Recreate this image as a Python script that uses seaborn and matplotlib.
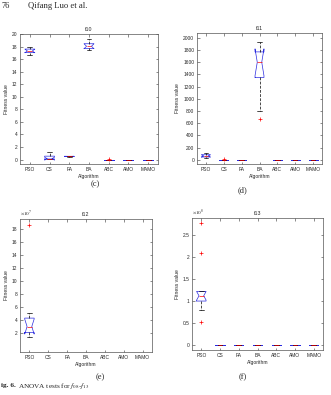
import numpy as np
import pandas as pd
import matplotlib
matplotlib.use("Agg")
import matplotlib.pyplot as plt
import seaborn as sns
from matplotlib.ticker import FuncFormatter, MultipleLocator

algorithms = ["PSO", "CS", "FA", "BA", "ABC", "AMO", "MAMO"]

# (c) f10 -- estimated samples
c_PSO = [16.6, 16.9, 17.05, 17.2, 17.3, 17.45, 17.6, 17.75, 17.9]
c_CS = [0.02, 0.05, 0.1, 0.12, 0.15, 0.3, 0.55, 0.8, 1.15]
c_FA = [0.48, 0.5, 0.51, 0.52, 0.52, 0.53, 0.53, 0.54, 0.55]
c_BA = [17.5, 17.6, 17.7, 17.9, 18.05, 18.25, 18.45, 18.8, 19.2]
c_ABC = [0, 0, 0, 0, 0, 0, 0, 0, 0.03]
c_AMO = [0, 0, 0, 0, 0, 0, 0, 0, 0]
c_MAMO = [0, 0, 0, 0, 0, 0, 0, 0, 0]

# (d) f11
d_PSO = [30, 38, 45, 55, 62, 72, 82, 95, 110]
d_CS = [0, 0, 0, 0, 0, 0, 0, 0, 6]
d_FA = [0, 0, 0, 0, 0, 0, 0, 0, 0]
d_BA = [670, 800, 1350, 1500, 1600, 1700, 1770, 1850, 1930]
d_ABC = [0, 0, 0, 0, 0, 0, 0, 0, 0]
d_AMO = [0, 0, 0, 0, 0, 0, 0, 0, 0]
d_MAMO = [0, 0, 0, 0, 0, 0, 0, 0, 0]

# (e) f12 (only PSO visible)
e_PSO = [1.4e7, 1.8e7, 2.1e7, 2.6e7, 3.0e7, 3.6e7, 4.3e7, 5.1e7, 18.6e7]

# (f) f13
f_PSO = [0.53e8, 0.8e8, 0.9e8, 1.0e8, 1.05e8, 1.08e8, 1.12e8, 1.15e8,
         1.18e8, 1.22e8, 1.22e8, 2.09e8, 2.78e8]
f_CS = [0, 0, 0, 0, 0, 0, 0, 0, 0]
f_FA = [0, 0, 0, 0, 0, 0, 0, 0, 0]
f_BA = [0, 0, 0, 0, 0, 0, 0, 0, 0]
f_ABC = [0, 0, 0, 0, 0, 0, 0, 0, 0]
f_AMO = [0, 0, 0, 0, 0, 0, 0, 0, 0]
f_MAMO = [0, 0, 0, 0, 0, 0, 0, 0, 0]

titles = ["f10", "f11", "f12", "f13"]
panel_labels = ["(c)", "(d)", "(e)", "(f)"]


def long_df(groups):
    rows = []
    for name, vals in groups:
        for v in vals:
            rows.append((name, v))
    return pd.DataFrame(rows, columns=["algorithm", "value"])


df_c = long_df(zip(algorithms, [c_PSO, c_CS, c_FA, c_BA, c_ABC, c_AMO, c_MAMO]))
df_d = long_df(zip(algorithms, [d_PSO, d_CS, d_FA, d_BA, d_ABC, d_AMO, d_MAMO]))
df_e = long_df([("PSO", e_PSO)])
df_f = long_df(zip(algorithms, [f_PSO, f_CS, f_FA, f_BA, f_ABC, f_AMO, f_MAMO]))

sns.set_style("ticks")
plt.rcParams["font.family"] = ["Liberation Sans", "DejaVu Sans"]
plt.rcParams["mathtext.fontset"] = "stix"

W, H = 331, 395
fig = plt.figure(figsize=(W / 100, H / 100), dpi=100)
fig.patch.set_facecolor("white")


def rect(l, r, t, b):
    return [l / W, 1 - b / H, (r - l) / W, (b - t) / H]


axes_rects = [rect(20, 158, 34, 164), rect(197, 322, 33, 164),
              rect(20, 152, 219, 352), rect(192, 323, 218, 350)]
dfs = [df_c, df_d, df_e, df_f]

for i, (r, df) in enumerate(zip(axes_rects, dfs)):
    ax = fig.add_axes(r)
    sns.boxplot(data=df, x="algorithm", y="value", order=algorithms, ax=ax,
                notch=True, fill=False, width=0.5, linewidth=0.5, whis=1.5,
                boxprops=dict(color="#2a2ae0"),
                medianprops=dict(color="red", linewidth=0.5),
                whiskerprops=dict(color="black", linestyle=(0, (4, 2)), linewidth=0.5),
                capprops=dict(color="black", linewidth=0.5),
                flierprops=dict(marker="+", markeredgecolor="red",
                                markersize=3, markeredgewidth=0.5))
    ax.set_xlim(-0.5, 6.5)
    ax.set_title(titles[i], fontsize=3.8, pad=2)
    ax.set_xlabel("Algorithm", fontsize=3.6, labelpad=1.5)
    ax.set_ylabel("Fitness value", fontsize=3.6, labelpad=2)
    ax.tick_params(direction="in", length=1.8, width=0.4, labelsize=3.5,
                   top=True, right=True, pad=2, color="#333333")
    for s in ax.spines.values():
        s.set_linewidth(0.5)
        s.set_color("#555555")
        s.set_visible(True)

    if i == 0:
        ax.set_ylim(-0.7, 20)
        ax.yaxis.set_major_locator(MultipleLocator(2))
    elif i == 1:
        ax.set_ylim(-70, 2080)
        ax.yaxis.set_major_locator(MultipleLocator(200))
    elif i == 2:
        ax.set_ylim(-0.9e7, 19.5e7)
        ax.set_yticks([2e7, 4e7, 6e7, 8e7, 10e7, 12e7, 14e7, 16e7, 18e7])
        ax.yaxis.set_major_formatter(FuncFormatter(lambda v, p: f"{v/1e7:g}"))
        ax.text(0.0, 1.01, r"$\times10^{7}$", transform=ax.transAxes,
                fontsize=3.8, ha="left", va="bottom")
    else:
        ax.set_ylim(-0.12e8, 2.9e8)
        ax.set_yticks([0, 0.5e8, 1e8, 1.5e8, 2e8, 2.5e8])
        ax.yaxis.set_major_formatter(FuncFormatter(lambda v, p: f"{v/1e8:g}"))
        ax.text(0.0, 1.01, r"$\times10^{8}$", transform=ax.transAxes,
                fontsize=3.8, ha="left", va="bottom")

# panel letters
serif = ["Liberation Serif", "DejaVu Serif"]
for (x, y), lab in zip([(95, 184), (243, 190), (100, 377), (243, 377)], panel_labels):
    fig.text(x / W, 1 - y / H, lab, fontsize=6, family=serif, ha="center", va="center")

# page header
fig.text(1 / W, 1 - 6 / H, "76", fontsize=6, family=serif, ha="left", va="center")
fig.text(28 / W, 1 - 6 / H, "Qifang Luo et al.", fontsize=6.2, family=serif,
         ha="left", va="center")

# caption
fig.text(1 / W, 1 - 386 / H, "ig. 6.", fontsize=5.2, family=serif,
         weight="bold", ha="left", va="center")
fig.text(18 / W, 1 - 386 / H, r"ANOVA tests for $f_{08}$-$f_{13}$", fontsize=5.2,
         family=serif, ha="left", va="center")

fig.savefig("out.png", dpi=100, facecolor="white")
